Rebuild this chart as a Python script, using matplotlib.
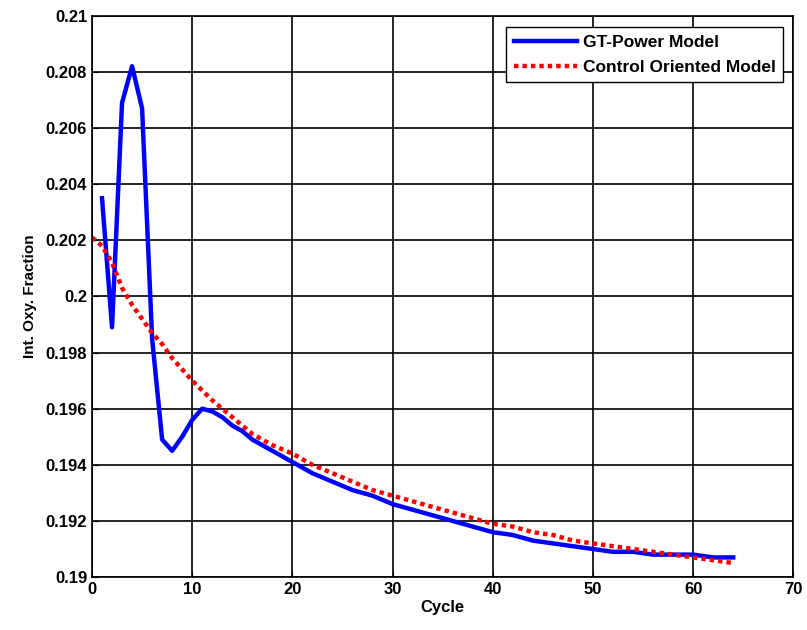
import numpy as np
import matplotlib.pyplot as plt
from matplotlib.ticker import FuncFormatter

plt.rcParams['font.family'] = ['Liberation Sans', 'DejaVu Sans']

# GT-Power model (blue)
gt_cycle = [1, 2, 3, 4, 5, 6, 7, 8, 9, 10, 11, 12, 13, 14, 15, 16, 17, 18, 19, 20,
            22, 24, 26, 28, 30, 32, 34, 36, 38, 40, 42, 44, 46, 48, 50, 52, 54, 56,
            58, 60, 62, 64]
gt_oxy = [0.2035, 0.1989, 0.2069, 0.2082, 0.2067, 0.1985, 0.1949, 0.1945, 0.1950,
          0.1956, 0.1960, 0.1959, 0.1957, 0.1954, 0.1952, 0.1949, 0.1947, 0.1945,
          0.1943, 0.1941, 0.1937, 0.1934, 0.1931, 0.1929, 0.1926, 0.1924, 0.1922,
          0.1920, 0.1918, 0.1916, 0.1915, 0.1913, 0.1912, 0.1911, 0.1910, 0.1909,
          0.1909, 0.1908, 0.1908, 0.1908, 0.1907, 0.1907]

# control oriented model (red dotted)
co_cycle = [0, 1, 2, 3, 4, 5, 6, 7, 8, 9, 10, 12, 14, 16, 18, 20, 22, 24, 26, 28,
            30, 32, 34, 36, 38, 40, 42, 44, 46, 48, 50, 52, 54, 56, 58, 60, 62, 64]
co_oxy = [0.2021, 0.2018, 0.2012, 0.2003, 0.1997, 0.1992, 0.1987, 0.1983, 0.1978,
          0.1974, 0.1970, 0.1963, 0.1957, 0.1951, 0.1947, 0.1944, 0.1940, 0.1937,
          0.1934, 0.1931, 0.1929, 0.1927, 0.1925, 0.1923, 0.1921, 0.1919, 0.1918,
          0.1916, 0.1915, 0.1913, 0.1912, 0.1911, 0.1910, 0.1909, 0.1908, 0.1907,
          0.1906, 0.1905]

fig = plt.figure(figsize=(8.07, 6.3), dpi=100)
ax = fig.add_axes([0.114, 0.084, 0.869, 0.891])

ax.plot(gt_cycle, gt_oxy, color='#0000ff', linewidth=3.2, label='GT-Power Model')
ax.plot(co_cycle, co_oxy, color='#ff0000', linewidth=3.2, linestyle=(0, (1, 0.9)),
        label='Control Oriented Model')

ax.set_xlim(0, 70)
ax.set_ylim(0.19, 0.21)
ax.set_xticks(np.arange(0, 71, 10))
ax.set_yticks(np.arange(0.19, 0.2101, 0.002))
ax.yaxis.set_major_formatter(FuncFormatter(lambda v, p: '%g' % round(v, 4)))
ax.grid(True, color='black', linewidth=1.2, linestyle='-')
ax.tick_params(direction='in', labelsize=12, length=4)
for lab in ax.get_xticklabels() + ax.get_yticklabels():
    lab.set_fontweight('bold')
for s in ax.spines.values():
    s.set_linewidth(1.2)

ax.set_xlabel('Cycle', fontsize=12, fontweight='bold', labelpad=2)
ax.set_ylabel('Int. Oxy. Fraction', fontsize=11, fontweight='bold', labelpad=6)

leg = ax.legend(loc='upper right', fontsize=12.5, frameon=True, fancybox=False,
                bbox_to_anchor=(0.986, 0.98), borderaxespad=0,
                handlelength=3.6, handletextpad=0.35,
                borderpad=0.45, labelspacing=0.55)
leg.get_frame().set_edgecolor('black')
leg.get_frame().set_linewidth(1.0)
leg.get_frame().set_alpha(1)
for t in leg.get_texts():
    t.set_fontweight('bold')

fig.savefig('out.png', dpi=100)
